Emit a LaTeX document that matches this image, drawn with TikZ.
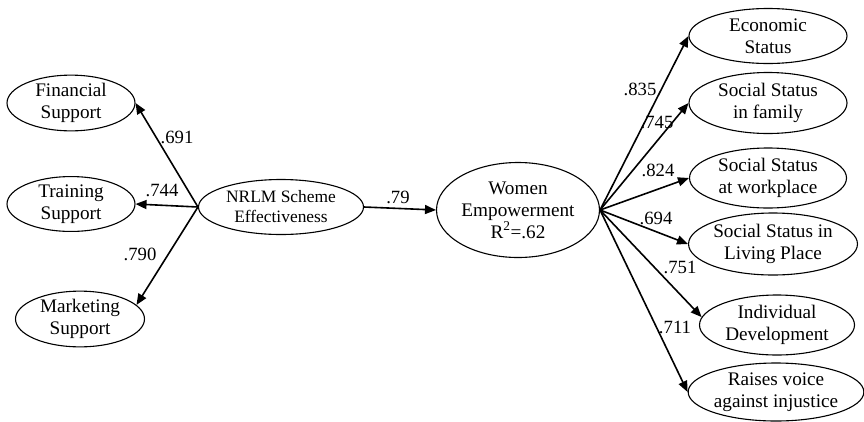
\documentclass[tikz,border=0pt]{standalone}
\usepackage{fontspec}
\setmainfont{Liberation Serif}
\usetikzlibrary{shapes.geometric, arrows.meta, positioning}
\tikzset{
  construct/.style 2 args={
    ellipse, draw, line width=1.1pt, inner sep=0pt,
    minimum width=#1pt, minimum height=#2pt,
    align=center, font=\fontsize{19.2}{22}\selectfont
  },
  latentbox/.style 2 args={
    construct={#1}{#2}, font=\fontsize{17.4}{20}\selectfont
  },
  coef/.style={inner sep=0pt, font=\fontsize{18.7}{20}\selectfont},
  patharrow/.style={-{Triangle[length=11pt,width=9pt]}, line width=1.6pt}
}

\begin{document}
\begin{tikzpicture}[x=1pt, y=-1pt]
  \useasboundingbox (0,0) rectangle (864,421);

  % indicators of the scheme
  \node[construct={128}{50}] (fin)   at (71,103)  {Financial\\Support};
  \node[construct={128}{52}] (train) at (71,204)  {Training\\Support};
  \node[construct={129}{55}] (mkt)   at (80,319)  {Marketing\\Support};

  % the two latent variables
  \node[latentbox={165}{55}] (nrlm) at (281,207) {NRLM Scheme\\Effectiveness};
  \node[construct={163}{95}] (we)   at (518,210)
    {Women\\Empowerment\\R\textsuperscript{2}=.62};

  % indicators of empowerment
  \node[construct={158}{55}] (eco)   at (768,36)  {Economic\\Status};
  \node[construct={158}{61}] (fam)   at (768,103) {Social Status\\in family};
  \node[construct={157}{60}] (work)  at (768,178) {Social Status\\at workplace};
  \node[construct={168}{62}] (live)  at (773,244) {Social Status in\\Living Place};
  \node[construct={155}{60}] (ind)   at (777,325) {Individual\\Development};
  \node[construct={173}{58}] (voice) at (776,392) {Raises voice\\against injustice};

  \foreach \b in {fin.east, train.east, mkt.14}{
    \draw[patharrow] (nrlm.west) -- (\b);
  }
  \draw[patharrow] (nrlm.east) -- (we.west);
  \foreach \b in {eco.west, fam.west, work.west, live.west, ind.174, voice.west}{
    \draw[patharrow] (we.east) -- (\b);
  }

  % path coefficients
  \foreach \n/\x/\y/\v in {691/177/137/.691, 744/162/190/.744, 790/140/254/.790,
                           79/398/197/.79, 835/640/89/.835, 745/657/122/.745,
                           824/658/170/.824, 694/656/218/.694, 751/680/267/.751,
                           711/675/327/.711}{
    \node[coef] (c\n) at (\x,\y) {\v};
  }
\end{tikzpicture}
\end{document}
